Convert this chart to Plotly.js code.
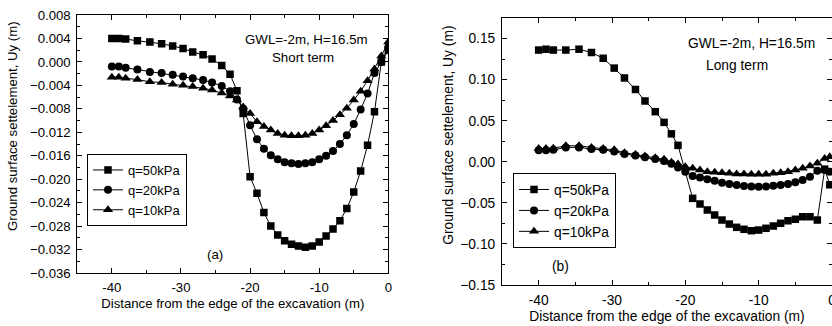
<!DOCTYPE html>
<html>
<head>
<meta charset="utf-8">
<script src="https://cdn.plot.ly/plotly-3.0.1.min.js"></script>
<style>html,body{margin:0;padding:0;overflow:hidden;background:#fff}</style>
</head>
<body>
<div id="chart" style="width:832px;height:326px"></div>
<script>
// ---- Panel (a): short term ----
var xA = [-40,-39,-38,-36.3,-34.5,-32.8,-31.2,-29.7,-28.3,-26.8,-25.5,-24.1,-22.9,-21.9,-21,-20,-19,-18,-17,-16,-15,-14,-13,-12,-11,-10,-9,-8,-7,-6,-5,-4,-3,-2,-1,0];
var a50 = [0.0040,0.0040,0.0039,0.0036,0.0034,0.0031,0.0027,0.0023,0.0017,0.0012,0.0005,-0.0006,-0.0021,-0.0049,-0.0088,-0.0196,-0.0224,-0.0257,-0.0280,-0.0295,-0.0305,-0.0311,-0.0314,-0.0316,-0.0314,-0.0307,-0.0297,-0.0285,-0.0271,-0.0250,-0.0222,-0.0186,-0.0142,-0.0085,0.0000,0.0020];
var a20 = [-0.0008,-0.0008,-0.0010,-0.0013,-0.0017,-0.0019,-0.0022,-0.0025,-0.0028,-0.0031,-0.0035,-0.0041,-0.0050,-0.0064,-0.0080,-0.0108,-0.0132,-0.0148,-0.0159,-0.0166,-0.0171,-0.0173,-0.0174,-0.0173,-0.0171,-0.0166,-0.0160,-0.0152,-0.0140,-0.0125,-0.0106,-0.0081,-0.0054,-0.0019,0.0000,0.0025];
var a10 = [-0.0026,-0.0026,-0.0028,-0.0030,-0.0034,-0.0035,-0.0038,-0.0040,-0.0042,-0.0045,-0.0048,-0.0053,-0.0058,-0.0065,-0.0077,-0.0088,-0.0102,-0.0110,-0.0116,-0.0122,-0.0125,-0.0126,-0.0126,-0.0125,-0.0122,-0.0116,-0.0109,-0.0100,-0.0090,-0.0079,-0.0065,-0.0050,-0.0032,-0.0012,0.0010,0.0034];

// ---- Panel (b): long term ----
var xB50 = [-40,-39,-38,-36.3,-34.5,-32.8,-31.2,-29.7,-28.3,-26.8,-25.5,-24.1,-22.9,-21.9,-21,-19,-18,-17,-16,-15,-14,-13,-12,-11,-10,-9,-8,-7,-6,-5,-4,-3,-2,-1,-0.3];
var b50 = [0.136,0.137,0.136,0.136,0.137,0.133,0.126,0.114,0.102,0.088,0.074,0.061,0.048,0.034,0.020,-0.0445,-0.0514,-0.0587,-0.0648,-0.0709,-0.0758,-0.0798,-0.0822,-0.0839,-0.0831,-0.0810,-0.0782,-0.0749,-0.0718,-0.0700,-0.0669,-0.0669,-0.0709,-0.009,-0.028];
var xB = [-40,-39,-38,-36.3,-34.5,-32.8,-31.2,-29.7,-28.3,-26.8,-25.5,-24.1,-22.9,-21.9,-21,-20,-19,-18,-17,-16,-15,-14,-13,-12,-11,-10,-9,-8,-7,-6,-5,-4,-3,-2,-1,-0.3];
var b20 = [0.014,0.014,0.0145,0.0175,0.0175,0.0155,0.0145,0.0125,0.0095,0.0075,0.0055,0.0035,0.0010,-0.0025,-0.0070,-0.0120,-0.0173,-0.0190,-0.0214,-0.0230,-0.0254,-0.0271,-0.0283,-0.0295,-0.0302,-0.0303,-0.0302,-0.0291,-0.0283,-0.0271,-0.0250,-0.0222,-0.0181,-0.0108,-0.0100,-0.0120];
var b10 = [0.016,0.016,0.0165,0.0195,0.0195,0.0175,0.016,0.0145,0.011,0.009,0.007,0.005,0.003,-0.0007,-0.0027,-0.0060,-0.0080,-0.0100,-0.0121,-0.0129,-0.0133,-0.0141,-0.0149,-0.0149,-0.0153,-0.0153,-0.0153,-0.0141,-0.0133,-0.0121,-0.0100,-0.0080,-0.0052,-0.0019,0.0040,0.0060];

// tick labels for the distance axis
var xTickVals = [-40,-30,-20,-10,0];
var xTickText = ['-40','-30','-20','-10','0'];

var names = ['q=50kPa','q=20kPa','q=10kPa'];
var symbols = ['square','circle','triangle-up'];
var sizes = [7.5,8,9];

var FONT = 'Liberation Sans, Arial, sans-serif';

function tr(x, y, i, xa, ya, leg) {
  return {
    x: x, y: y, xaxis: xa, yaxis: ya, legend: leg,
    type: 'scatter', mode: 'lines+markers', name: names[i],
    line: {color: '#000', width: 1},
    marker: {symbol: symbols[i], size: sizes[i], color: '#000', line: {width: 0}},
    showlegend: true, cliponaxis: true
  };
}

var data = [
  tr(xA, a50, 0, 'x', 'y', 'legend'),
  tr(xA, a20, 1, 'x', 'y', 'legend'),
  tr(xA, a10, 2, 'x', 'y', 'legend'),
  tr(xB50, b50, 0, 'x2', 'y2', 'legend2'),
  tr(xB, b20, 1, 'x2', 'y2', 'legend2'),
  tr(xB, b10, 2, 'x2', 'y2', 'legend2')
];

function xax(dom, anchor, fs) {
  return {
    domain: dom, anchor: anchor, range: [-45, 0],
    tickmode: 'array', tickvals: xTickVals, ticktext: xTickText,
    ticks: 'inside', ticklen: 5, tickcolor: '#000', tickwidth: 1,
    showline: true, linecolor: '#000', linewidth: 1, mirror: 'ticks',
    showgrid: false, zeroline: false,
    minor: {ticks: 'inside', ticklen: 3, dtick: 5, tick0: 0, tickcolor: '#000', showgrid: false},
    tickfont: {family: FONT, size: fs, color: '#000'},
    ticklabelstandoff: 2, ticklabeloverflow: 'allow',
    title: {text: 'Distance from the edge of the excavation (m)', font: {family: FONT, size: fs, color: '#000'}, standoff: 4},
    automargin: false
  };
}
function yax(dom, anchor, range, dtick, mdtick, fmt, fs) {
  return {
    domain: dom, anchor: anchor, range: range, tick0: 0, dtick: dtick,
    ticks: 'inside', ticklen: 5, tickcolor: '#000', tickwidth: 1,
    showline: true, linecolor: '#000', linewidth: 1, mirror: 'ticks',
    showgrid: false, zeroline: false, tickformat: fmt,
    minor: {ticks: 'inside', ticklen: 3, dtick: mdtick, tick0: 0, tickcolor: '#000', showgrid: false},
    tickfont: {family: FONT, size: fs, color: '#000'},
    ticklabelstandoff: 3, ticklabeloverflow: 'allow',
    automargin: false
  };
}

function ann(text, x, y, fs, angle) {
  return {text: text, x: x, y: y, xref: 'paper', yref: 'paper', showarrow: false,
          xanchor: 'center', yanchor: 'middle', textangle: angle || 0,
          font: {family: FONT, size: fs, color: '#000'}};
}

var layout = {
  width: 832, height: 326,
  margin: {l: 0, r: 0, t: 0, b: 0},
  paper_bgcolor: '#fff', plot_bgcolor: '#fff',
  font: {family: FONT, color: '#000'},
  xaxis: xax([77.3/832, 388.3/832], 'y', 13.2),
  yaxis: yax([1-273/326, 1-15/326], 'x', [-0.036, 0.008], 0.004, 0.002, '.3f', 13.2),
  xaxis2: xax([502/832, 1], 'y2', 13.8),
  yaxis2: yax([1-285/326, 1-18/326], 'x2', [-0.15, 0.175], 0.05, 0.025, '.2f', 13.8),
  legend: {x: 87/832, y: 1-154/326, xanchor: 'left', yanchor: 'top',
           bordercolor: '#000', borderwidth: 1, bgcolor: '#fff',
           font: {family: FONT, size: 13, color: '#000'}, itemwidth: 30, tracegroupgap: 0},
  legend2: {x: 513/832, y: 1-173/326, xanchor: 'left', yanchor: 'top',
           bordercolor: '#000', borderwidth: 1, bgcolor: '#fff',
           font: {family: FONT, size: 13.8, color: '#000'}, itemwidth: 30, tracegroupgap: 0},
  annotations: [
    ann('Ground surface settelement, Uy (m)', 12.5/832, 1-126.5/326, 13.2, -90),
    ann('GWL=-2m, H=16.5m', 306.7/832, 1-40/326, 13.3),
    ann('Short term', 302.5/832, 1-58/326, 13.3),
    ann('(a)', 214.5/832, 1-254/326, 13.3),
    ann('Ground surface settelement, Uy (m)', 449/832, 1-135.8/326, 13.8, -90),
    ann('GWL=-2m, H=16.5m', 751/832, 1-43/326, 13.8),
    ann('Long term', 737/832, 1-66/326, 13.8),
    ann('(b)', 560/832, 1-266/326, 13.8)
  ]
};

Plotly.newPlot('chart', data, layout, {displayModeBar: false, staticPlot: true});
</script>
</body>
</html>
